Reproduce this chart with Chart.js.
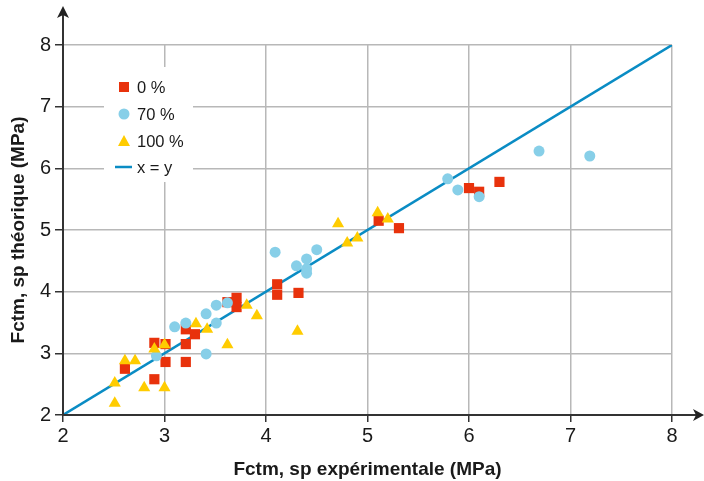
<!DOCTYPE html>
<html>
<head>
<meta charset="utf-8">
<script src="https://cdn.jsdelivr.net/npm/chart.js@4.4.1/dist/chart.umd.min.js"></script>
<style>
  html, body { margin: 0; padding: 0; background: #fff; }
</style>
</head>
<body>
<canvas id="scatterChart" width="704" height="481"></canvas>
<script>
// tick values on both axes
const axisTicks = [2, 3, 4, 5, 6, 7, 8];

// 0 %
const red0X = [2.61, 2.90, 3.01, 2.90, 3.01, 3.21, 3.21, 3.21, 3.30, 3.62, 3.71, 3.71, 4.11, 4.11, 4.32, 5.11, 5.31, 6.00, 6.10, 6.30];
const red0Y = [2.75, 3.17, 3.15, 2.58, 2.86, 3.39, 3.15, 2.86, 3.31, 3.83, 3.90, 3.75, 4.12, 3.95, 3.98, 5.15, 5.03, 5.68, 5.62, 5.78];

// 70 %
const blue70X = [2.92, 3.10, 3.21, 3.41, 3.51, 3.51, 3.62, 3.41, 4.09, 4.30, 4.40, 4.40, 4.40, 4.50, 5.79, 5.89, 6.10, 6.69, 7.19];
const blue70Y = [2.96, 3.43, 3.49, 3.64, 3.78, 3.49, 3.82, 2.99, 4.64, 4.42, 4.53, 4.37, 4.30, 4.68, 5.83, 5.65, 5.54, 6.28, 6.20];

// 100 %
const yel100X = [2.51, 2.51, 2.61, 2.71, 2.80, 2.90, 3.00, 3.00, 3.31, 3.42, 3.62, 3.81, 3.91, 4.31, 4.71, 4.80, 4.90, 5.10, 5.20];
const yel100Y = [2.52, 2.19, 2.88, 2.88, 2.44, 3.07, 3.14, 2.44, 3.48, 3.39, 3.14, 3.78, 3.61, 3.36, 5.10, 4.79, 4.87, 5.28, 5.18];

// x = y
const lineX = [2, 8];
const lineY = [2, 8];

const toPts = (xs, ys) => xs.map((x, i) => ({ x: x, y: ys[i] }));

const RED = '#e8320c';
const BLUE = '#87cfe8';
const YELLOW = '#ffcc00';
const LINE = '#0a8cc4';
const FONT = '"Liberation Sans", Arial, sans-serif';

// axis lines with arrow heads
const arrowAxes = {
    id: 'arrowAxes',
    afterDraw(chart) {
        const ctx = chart.ctx;
        const x0 = chart.scales.x.left;
        const y0 = chart.scales.y.bottom;
        ctx.save();
        ctx.strokeStyle = '#333';
        ctx.fillStyle = '#222';
        ctx.lineWidth = 2;
        ctx.beginPath();
        ctx.moveTo(x0, y0);
        ctx.lineTo(698, y0);
        ctx.moveTo(x0, y0);
        ctx.lineTo(x0, 14);
        ctx.stroke();
        // right arrow
        ctx.beginPath();
        ctx.moveTo(704, y0);
        ctx.lineTo(693, y0 - 6);
        ctx.lineTo(696, y0);
        ctx.lineTo(693, y0 + 6);
        ctx.closePath();
        ctx.fill();
        // up arrow
        ctx.beginPath();
        ctx.moveTo(x0, 6);
        ctx.lineTo(x0 - 6, 18);
        ctx.lineTo(x0, 15);
        ctx.lineTo(x0 + 6, 18);
        ctx.closePath();
        ctx.fill();
        ctx.restore();
    }
};

// legend inside the plot
const plotLegend = {
    id: 'plotLegend',
    afterDatasetsDraw(chart) {
        const ctx = chart.ctx;
        const bx = 104, by = 67;
        ctx.save();
        ctx.fillStyle = '#fff';
        ctx.fillRect(bx, by, 89, 115);
        const mx = 124, tx = 137;
        const rows = [87, 114, 141, 167];
        ctx.font = '16.5px ' + FONT;
        ctx.textBaseline = 'middle';
        // square
        ctx.fillStyle = RED;
        ctx.fillRect(mx - 5, rows[0] - 5, 10, 10);
        // circle
        ctx.fillStyle = BLUE;
        ctx.beginPath();
        ctx.arc(mx, rows[1], 5.5, 0, Math.PI * 2);
        ctx.fill();
        // triangle
        ctx.fillStyle = YELLOW;
        ctx.beginPath();
        ctx.moveTo(mx, rows[2] - 6);
        ctx.lineTo(mx + 6, rows[2] + 5);
        ctx.lineTo(mx - 6, rows[2] + 5);
        ctx.closePath();
        ctx.fill();
        // line
        ctx.strokeStyle = LINE;
        ctx.lineWidth = 2.5;
        ctx.beginPath();
        ctx.moveTo(mx - 9, rows[3]);
        ctx.lineTo(mx + 8, rows[3]);
        ctx.stroke();
        ctx.fillStyle = '#1a1a1a';
        const labels = ['0 %', '70 %', '100 %', 'x = y'];
        labels.forEach((t, i) => ctx.fillText(t, tx, rows[i] + 1));
        ctx.restore();
    }
};

const scatterChart = document.getElementById('scatterChart');

new Chart(scatterChart, {
    type: 'scatter',
    data: {
        datasets: [
            {
                label: '100 %',
                data: toPts(yel100X, yel100Y),
                pointStyle: 'triangle',
                pointRadius: 7,
                backgroundColor: YELLOW,
                borderColor: YELLOW,
                borderWidth: 0,
                order: 1
            },
            {
                label: '70 %',
                data: toPts(blue70X, blue70Y),
                pointStyle: 'circle',
                pointRadius: 5.5,
                backgroundColor: BLUE,
                borderColor: BLUE,
                borderWidth: 0,
                order: 2
            },
            {
                label: '0 %',
                data: toPts(red0X, red0Y),
                pointStyle: 'rect',
                pointRadius: 7.2,
                backgroundColor: RED,
                borderColor: RED,
                borderWidth: 0,
                order: 3
            },
            {
                label: 'x = y',
                type: 'line',
                data: toPts(lineX, lineY),
                borderColor: LINE,
                borderWidth: 2.5,
                pointRadius: 0,
                fill: false,
                order: 4
            }
        ]
    },
    options: {
        responsive: false,
        animation: false,
        devicePixelRatio: 1,
        layout: {
            padding: { top: 45, right: 32, left: 0, bottom: 0 }
        },
        plugins: {
            legend: { display: false },
            tooltip: { enabled: false }
        },
        scales: {
            x: {
                type: 'linear',
                min: 2,
                max: 8,
                afterFit: (s) => { s.height = 66; },
                afterBuildTicks: (s) => { s.ticks = axisTicks.map(v => ({ value: v })); },
                grid: { color: '#b8b8b8', lineWidth: 1.5, tickColor: '#333', tickLength: 7 },
                border: { display: false },
                ticks: { color: '#1a1a1a', padding: 2, font: { family: FONT, size: 20 } },
                title: {
                    display: true,
                    text: 'Fctm, sp expérimentale (MPa)',
                    color: '#1a1a1a',
                    font: { family: FONT, size: 19, weight: 'bold' },
                    padding: { top: 0, bottom: 0 }
                }
            },
            y: {
                type: 'linear',
                min: 2,
                max: 8,
                afterFit: (s) => { s.width = 63; },
                afterBuildTicks: (s) => { s.ticks = axisTicks.map(v => ({ value: v })); },
                grid: { color: '#b8b8b8', lineWidth: 1.5, tickColor: '#333', tickLength: 8 },
                border: { display: false },
                ticks: { color: '#1a1a1a', padding: 4, font: { family: FONT, size: 20 } },
                title: {
                    display: true,
                    text: 'Fctm, sp théorique (MPa)',
                    color: '#1a1a1a',
                    font: { family: FONT, size: 19, weight: 'bold' },
                    padding: { top: 7, bottom: 0 }
                }
            }
        }
    },
    plugins: [arrowAxes, plotLegend]
});
</script>
</body>
</html>
